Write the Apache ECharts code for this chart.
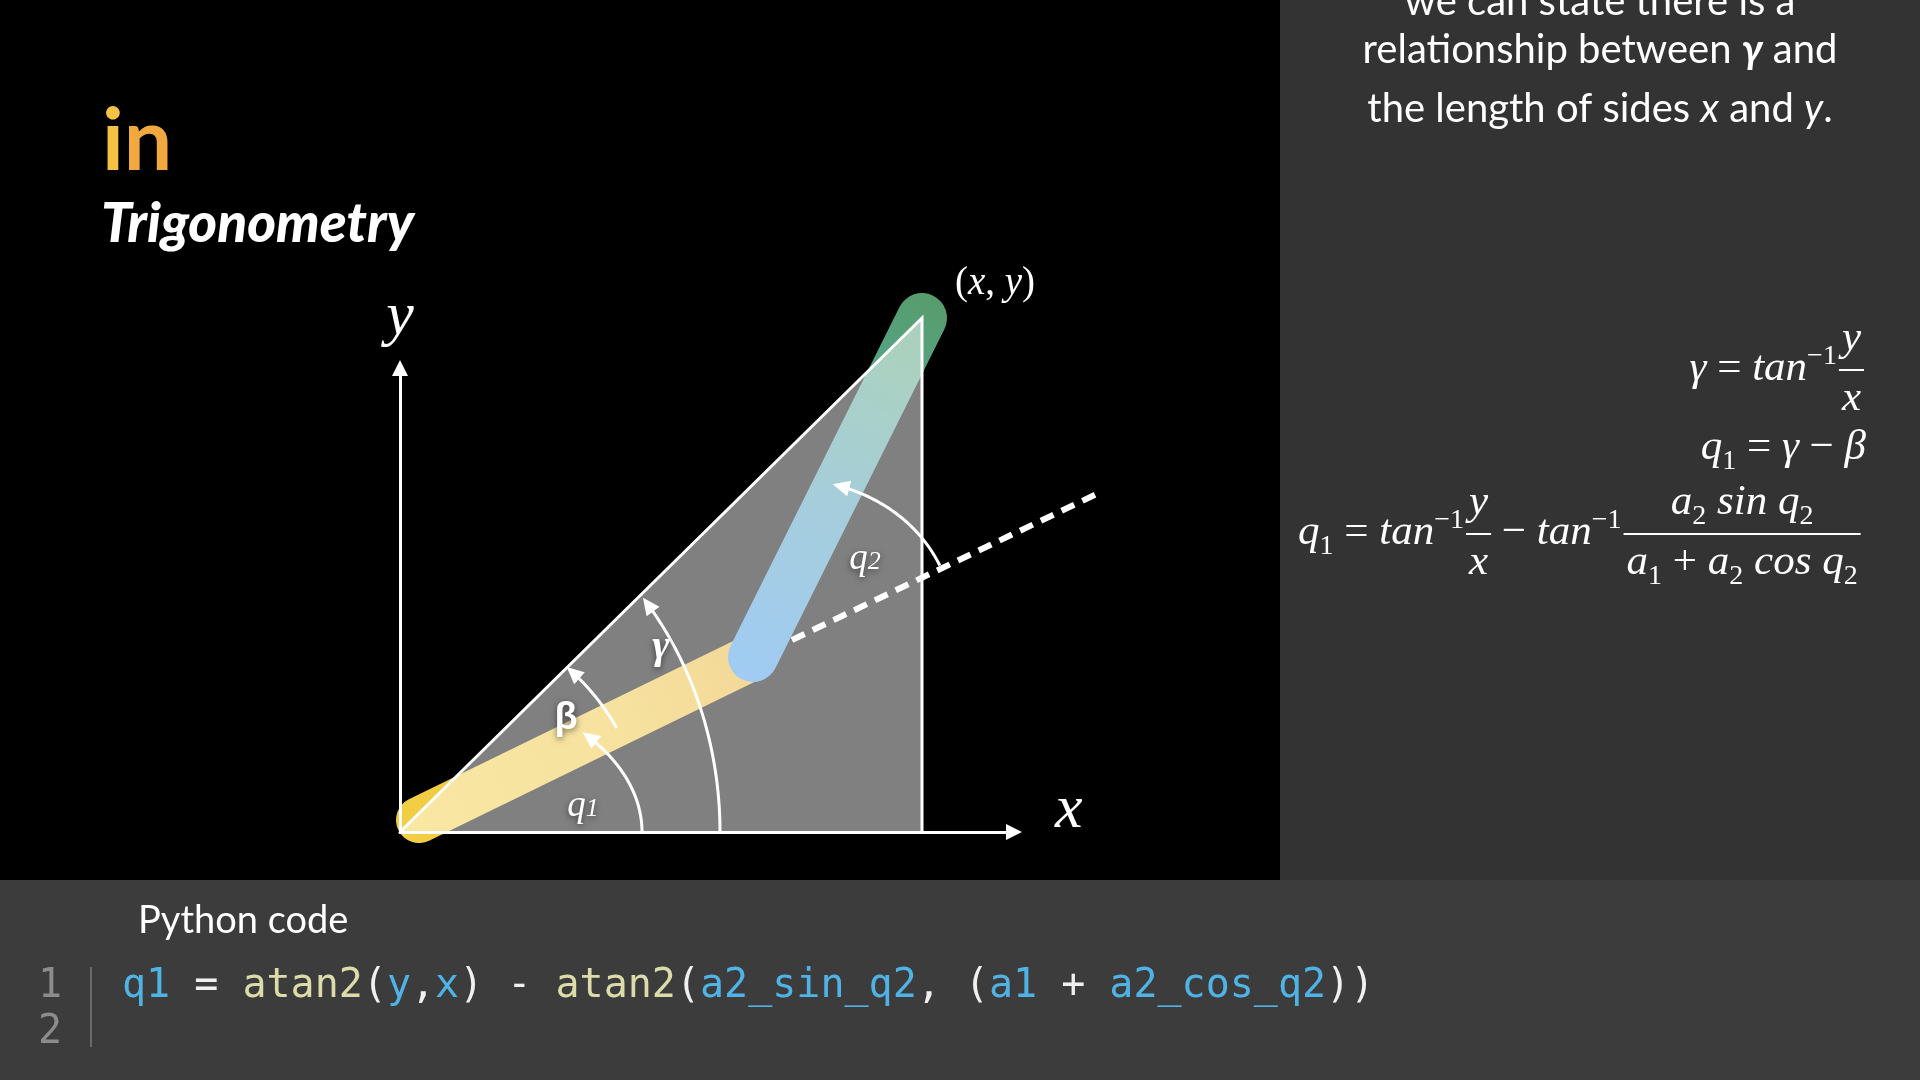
<!DOCTYPE html>
<html>
<head>
<meta charset="utf-8">
<title>Trigonometry — two-link arm</title>
<script src="https://cdn.jsdelivr.net/npm/echarts@6/dist/echarts.min.js"></script>
<style>
  html, body { margin: 0; padding: 0; background: #000; }
  #chart { width: 1920px; height: 1080px; }
</style>
</head>
<body>
<div id="chart"></div>
<script>
// Two-link arm in a pixel-scaled grid: origin = base joint, 1 unit = 1 screen px.

// arm joints: base, elbow, end effector (x, y)
const jointX = [19, 353, 522];
const jointY = [12, 175, 514];

// right triangle: origin -> (x, y) -> foot on the x axis
const triX = [0, 522, 522];
const triY = [0, 514, 0];

// link 1 carried on past the elbow (dashed)
const extX = [392, 703];
const extY = [192, 341];

// angle arcs: centre, radii, tilt and sweep in degrees
const arcCx   = [0, 0, 0, 353];
const arcCy   = [0, 0, 0, 175];
const arcRx   = [242, 244, 320, 208];
const arcRy   = [152, 226, 360, 171];
const arcTilt = [0, 0, 0, 25.6];
const arcFrom = [0, 27.4, 0, 0.6];
const arcTo   = [41, 46.9, 40.6, 45.2];

// labels on the diagram
const labelText = ['{q|q}{s|1}', '{b|β}', '{g|γ}', '{q|q}{s|2}', '{p|(}{i|x}{p|, }{i|y}{p|)}'];
const labelX = [183, 166, 261, 465, 595];
const labelY = [26, 113, 185, 273, 548];

// axis ends (arrow heads sit just past these)
const xAxisMax = 614;
const yAxisMax = 464;

// side panel text
const noteLines = [
  'we can state there is a',
  '{n|relationship between }{g|γ}{n| and}',
  '{n|the length of sides }{i|x}{n| and }{i|y}{n|.}',
];
const noteBase = [15, 63, 122];

const codeTokens = [
  ['v', 'q1'], ['p', ' = '], ['f', 'atan2'], ['p', '('], ['v', 'y'], ['p', ','], ['v', 'x'],
  ['p', ') - '], ['f', 'atan2'], ['p', '('], ['v', 'a2_sin_q2'], ['p', ', ('], ['v', 'a1'],
  ['p', ' + '], ['v', 'a2_cos_q2'], ['p', '))'],
];

const WHITE = '#ffffff';
const MATH = '"Liberation Serif", "Times New Roman", serif';
const SANS = 'Lato, "Open Sans", sans-serif';
const MONO = '"DejaVu Sans Mono", monospace';
const LATO_MID = 0.33;   // baseline sits this many em below the text's middle line

// ---- tiny math typesetter for the formulas on the right ----
const mctx = document.createElement('canvas').getContext('2d');

function cssFont(p) {
  return (p.it ? 'italic ' : '') + p.s + 'px ' + MATH;
}
function textW(p) {
  mctx.font = cssFont(p);
  return mctx.measureText(p.t).width;
}
function midShift(p) {
  mctx.font = cssFont(p);
  mctx.textBaseline = 'middle';
  const a = mctx.measureText('x').alphabeticBaseline;
  mctx.textBaseline = 'alphabetic';
  return (typeof a === 'number' && a !== 0) ? Math.abs(a) : 0.34 * p.s;
}

const I = t => ({ t, s: 43, it: true });
const R = t => ({ t, s: 43, it: false });
const SUB = t => ({ t, s: 28, it: false, dy: 10 });
const SUP = t => ({ t, s: 28, it: false, dy: -16 });
const FR = (num, den) => ({ num, den });

function partW(p) {
  if (p.num) return Math.max(rowW(p.num), rowW(p.den)) + 8;
  return textW(p);
}
function rowW(parts) { return parts.reduce((w, p) => w + partW(p), 0); }

function layRow(out, x, base, parts) {
  parts.forEach(p => {
    const w = partW(p);
    if (p.num) {
      const barY = base - 10;
      out.push({ type: 'line', shape: { x1: x + 2, y1: barY, x2: x + w, y2: barY },
        style: { stroke: WHITE, lineWidth: 2 } });
      layRow(out, x + 2 + (w - 2 - rowW(p.num)) / 2, base - 30, p.num);
      layRow(out, x + 2 + (w - 2 - rowW(p.den)) / 2, base + 30, p.den);
    } else {
      out.push({
        type: 'text', x, y: base + (p.dy || 0) - midShift(p),
        style: { text: p.t, fontFamily: MATH, fontSize: p.s, fontStyle: p.it ? 'italic' : 'normal',
          fill: WHITE, align: 'left', verticalAlign: 'middle' },
      });
    }
    x += w;
  });
}

const eqRows = [
  { anchor: 'right', x: 1864, base: 380,
    parts: [I('γ'), R(' = '), I('tan'), SUP('−1'), FR([I('y')], [I('x')])] },
  { anchor: 'right', x: 1866, base: 459,
    parts: [I('q'), SUB('1'), R(' = '), I('γ'), R(' − '), I('β')] },
  { anchor: 'left', x: 1298, base: 544,
    parts: [I('q'), SUB('1'), R(' = '), I('tan'), SUP('−1'), FR([I('y')], [I('x')]), R(' − '),
      I('tan'), SUP('−1'),
      FR([I('a'), SUB('2'), I(' sin '), I('q'), SUB('2')],
         [I('a'), SUB('1'), R(' + '), I('a'), SUB('2'), I(' cos '), I('q'), SUB('2')])] },
];

function mathGraphics() {
  const out = [];
  eqRows.forEach(r => {
    const w = rowW(r.parts);
    layRow(out, r.anchor === 'right' ? r.x - w : r.x, r.base, r.parts);
  });
  return out;
}

// ---- static slide furniture ----
function slideGraphics() {
  const g = [
    { type: 'rect', shape: { x: 1280, y: 0, width: 640, height: 880 }, style: { fill: '#333333' }, z: -10 },
    { type: 'rect', shape: { x: 0, y: 880, width: 1920, height: 200 }, style: { fill: '#3c3c3c' }, z: -10 },
    {
      type: 'text', x: 102, y: 171 - LATO_MID * 86,
      style: {
        text: '{a|i}{b|n}', verticalAlign: 'middle',
        rich: {
          a: { fill: '#f6c244', fontFamily: SANS, fontWeight: 'bold', fontSize: 86 },
          b: { fill: '#f1a93f', fontFamily: SANS, fontWeight: 'bold', fontSize: 86 },
        },
      },
    },
    {
      type: 'text', x: 101, y: 242 - LATO_MID * 55,
      style: { text: 'Trigonometry', fontFamily: SANS, fontWeight: 900, fontStyle: 'italic',
        fontSize: 55, fill: WHITE, verticalAlign: 'middle' },
    },
    {
      type: 'text', x: 138, y: 933 - LATO_MID * 38,
      style: { text: 'Python code', fontFamily: SANS, fontSize: 38, fill: WHITE, verticalAlign: 'middle' },
    },
    { type: 'line', shape: { x1: 91, y1: 967, x2: 91, y2: 1047 }, style: { stroke: '#6a6a6a', lineWidth: 2 } },
    {
      type: 'text', x: 62, y: 987,
      style: { text: '1', fontFamily: MONO, fontSize: 40, fill: '#8c8c8c', align: 'right', verticalAlign: 'middle' },
    },
    {
      type: 'text', x: 62, y: 1033,
      style: { text: '2', fontFamily: MONO, fontSize: 40, fill: '#8c8c8c', align: 'right', verticalAlign: 'middle' },
    },
    {
      type: 'text', x: 122, y: 987,
      style: {
        text: codeTokens.map(([k, t]) => '{' + k + '|' + t + '}').join(''),
        fontFamily: MONO, fontSize: 40, verticalAlign: 'middle',
        rich: {
          v: { fill: '#4fb3e6', fontFamily: MONO, fontSize: 40 },
          f: { fill: '#dcdcaa', fontFamily: MONO, fontSize: 40 },
          p: { fill: '#f0f0f0', fontFamily: MONO, fontSize: 40 },
        },
      },
    },
  ];
  noteLines.forEach((t, i) => {
    g.push({
      type: 'text', x: 1600, y: noteBase[i] - LATO_MID * 40,
      style: {
        text: t.indexOf('{') === 0 ? t : '{n|' + t + '}',
        align: 'center', verticalAlign: 'middle',
        rich: {
          n: { fill: WHITE, fontFamily: SANS, fontSize: 40 },
          g: { fill: WHITE, fontFamily: SANS, fontSize: 40, fontWeight: 'bold', fontStyle: 'italic' },
          i: { fill: WHITE, fontFamily: SANS, fontSize: 40, fontStyle: 'italic' },
        },
      },
    });
  });
  return g.concat(mathGraphics());
}

// ---- series renderers ----
function renderArc(params, api) {
  const cx = api.value(0), cy = api.value(1), rx = api.value(2), ry = api.value(3);
  const tilt = api.value(4) * Math.PI / 180;
  const t0 = api.value(5), t1 = api.value(6);
  const pts = [];
  const n = 60;
  for (let k = 0; k <= n; k++) {
    const t = (t0 + (t1 - t0) * k / n) * Math.PI / 180;
    const ex = rx * Math.cos(t), ey = ry * Math.sin(t);
    pts.push(api.coord([cx + ex * Math.cos(tilt) - ey * Math.sin(tilt),
                        cy + ex * Math.sin(tilt) + ey * Math.cos(tilt)]));
  }
  const tip = pts[n], prev = pts[n - 3];
  let dx = tip[0] - prev[0], dy = tip[1] - prev[1];
  const len = Math.hypot(dx, dy) || 1;
  dx /= len; dy /= len;
  const L = 17, H = 8;
  const bx = tip[0] - dx * L, by = tip[1] - dy * L;
  const head = [tip, [bx - dy * H, by + dx * H], [bx + dy * H, by - dx * H]];
  return {
    type: 'group',
    children: [
      { type: 'polyline', shape: { points: pts.slice(0, n - 2) }, style: { stroke: WHITE, lineWidth: 3, fill: null } },
      { type: 'polygon', shape: { points: head }, style: { fill: WHITE } },
    ],
  };
}

function renderDash(params, api) {
  const a = api.coord([api.value(0), api.value(1)]);
  const b = api.coord([api.value(2), api.value(3)]);
  return {
    type: 'line', shape: { x1: a[0], y1: a[1], x2: b[0], y2: b[1] },
    style: { stroke: WHITE, lineWidth: 6, lineDash: [14, 9] },
  };
}

const SHADOW = { textShadowColor: 'rgba(0,0,0,0.55)', textShadowBlur: 6, textShadowOffsetY: 2 };
const labelRich = {
  q: Object.assign({ fontFamily: MATH, fontStyle: 'italic', fontSize: 37, fill: WHITE, verticalAlign: 'bottom' }, SHADOW),
  s: Object.assign({ fontFamily: MATH, fontStyle: 'italic', fontSize: 26, fill: WHITE, verticalAlign: 'bottom',
       padding: [0, 0, 2, 0] }, SHADOW),
  b: Object.assign({ fontFamily: '"Liberation Sans", sans-serif', fontWeight: 'bold', fontSize: 38, fill: WHITE }, SHADOW),
  g: Object.assign({ fontFamily: MATH, fontStyle: 'italic', fontWeight: 'bold', fontSize: 42, fill: WHITE }, SHADOW),
  p: { fontFamily: MATH, fontSize: 39, fill: WHITE },
  i: { fontFamily: MATH, fontStyle: 'italic', fontSize: 39, fill: WHITE },
};

function renderLabel(params, api) {
  const pt = api.coord([api.value(0), api.value(1)]);
  return {
    type: 'text', x: pt[0], y: pt[1],
    style: { text: labelText[api.value(2)], align: 'center', verticalAlign: 'middle', rich: labelRich },
  };
}

function axisCommon(name, max, nameGap, lineHeight) {
  return {
    type: 'value', min: 0, max, z: 6,
    name, nameLocation: 'end', nameGap,
    nameTextStyle: { color: WHITE, fontFamily: MATH, fontStyle: 'italic', fontSize: 62,
      verticalAlign: 'bottom', lineHeight },
    axisLine: { show: true, onZero: false, symbol: ['none', 'triangle'], symbolSize: [16, 16],
      lineStyle: { color: WHITE, width: 3 } },
    axisTick: { show: false }, axisLabel: { show: false }, splitLine: { show: false },
  };
}

const chart = echarts.init(document.getElementById('chart'));
chart.setOption({
  backgroundColor: '#000000',
  animation: false,
  grid: { left: 400, top: 832 - yAxisMax, width: xAxisMax, height: yAxisMax, containLabel: false, outerBoundsMode: 'none' },
  xAxis: axisCommon('x', xAxisMax, 41, 42),
  yAxis: axisCommon('y', yAxisMax, 22, 56),
  graphic: { elements: slideGraphics() },
  series: [
    {
      type: 'line', name: 'link 1', z: 1, silent: true, clip: false, showSymbol: false,
      data: [[jointX[0], jointY[0]], [jointX[1], jointY[1]]],
      lineStyle: { width: 46, cap: 'round',
        color: new echarts.graphic.LinearGradient(0, 1, 1, 0, [
          { offset: 0, color: '#f2cf45' }, { offset: 0.6, color: '#eec33f' }, { offset: 1, color: '#e5ad2e' }]) },
    },
    {
      type: 'line', name: 'link 2', z: 1, silent: true, clip: false, showSymbol: false,
      data: [[jointX[1], jointY[1]], [jointX[2], jointY[2]]],
      lineStyle: { width: 50, cap: 'round',
        color: new echarts.graphic.LinearGradient(0, 1, 1, 0, [
          { offset: 0, color: '#4197eb' }, { offset: 0.45, color: '#4c9bb8' },
          { offset: 0.8, color: '#55a382' }, { offset: 1, color: '#589b69' }]) },
    },
    {
      type: 'line', name: 'triangle', z: 2, silent: true, clip: false, showSymbol: false,
      data: triX.map((x, i) => [x, triY[i]]),
      lineStyle: { color: WHITE, width: 3, join: 'miter' },
      areaStyle: { color: 'rgba(255,255,255,0.5)', opacity: 1 },
    },
    {
      type: 'custom', name: 'extension', z: 3, silent: true, clip: false,
      data: [[extX[0], extY[0], extX[1], extY[1]]],
      encode: { x: [0, 2], y: [1, 3] },
      renderItem: renderDash,
    },
    {
      type: 'custom', name: 'angles', z: 4, silent: true, clip: false,
      data: arcCx.map((c, i) => [c, arcCy[i], arcRx[i], arcRy[i], arcTilt[i], arcFrom[i], arcTo[i]]),
      encode: { x: 0, y: 1 },
      renderItem: renderArc,
    },
    {
      type: 'custom', name: 'labels', z: 5, silent: true, clip: false,
      data: labelX.map((x, i) => [x, labelY[i], i]),
      encode: { x: 0, y: 1 },
      renderItem: renderLabel,
    },
  ],
});
</script>
</body>
</html>
